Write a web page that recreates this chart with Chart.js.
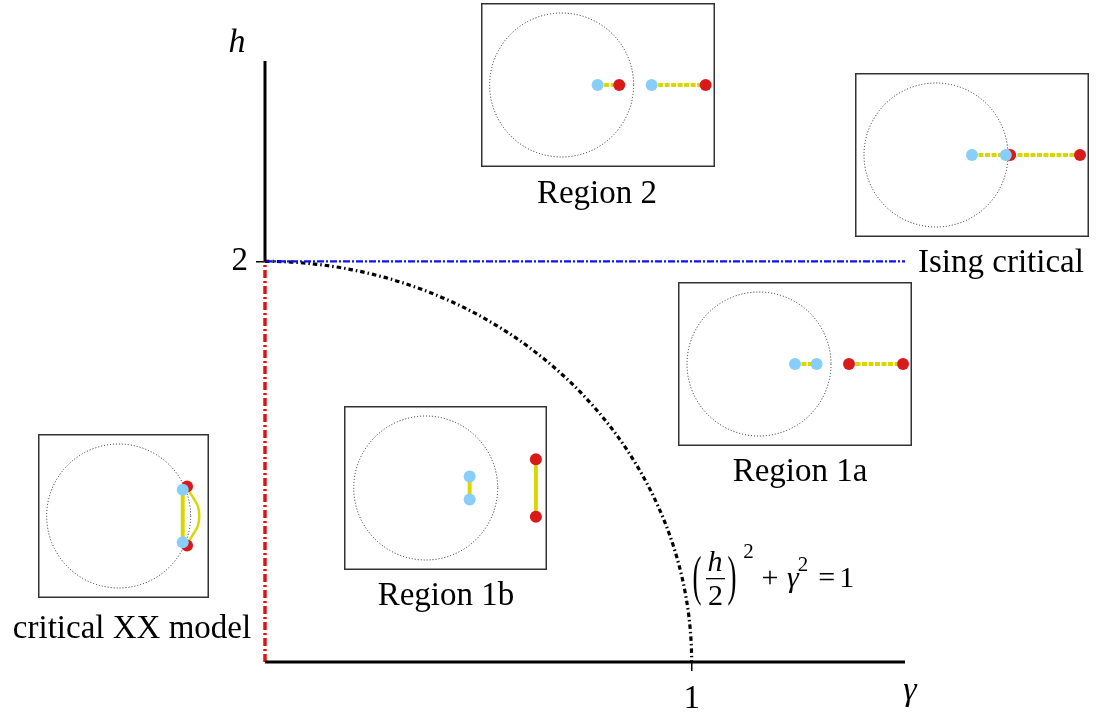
<!DOCTYPE html>
<html>
<head>
<meta charset="utf-8">
<script src="https://cdn.jsdelivr.net/npm/chart.js@4/dist/chart.umd.min.js"></script>
<style>
  html, body { margin: 0; padding: 0; background: #fff; }
  #stage { position: relative; width: 1099px; height: 715px; overflow: hidden; }
  #stage canvas { position: absolute; }
</style>
</head>
<body>
<div id="stage"><canvas id="phase" width="1099" height="715" style="left:0;top:0"></canvas></div>
<script>
const SERIF = '"Liberation Serif", "DejaVu Serif", serif';

// ---- Phase diagram in the (γ, h) plane ----
const gammaRange = [0, 1.5];
const hRange = [0, 3];
const gammaTicks = [1];
const hTicks = [2];

const gammaAxisLine = [[0, 0], [1.5, 0]];
const hAxisLine = [[0, 2], [0, 3]];
const xxCriticalLine = [[0, 0], [0, 2]];        // γ = 0, h < 2
const isingCriticalLine = [[0, 2], [1.5, 2]];   // h = 2
const boundaryIntercepts = [1, 2];              // (h/2)^2 + γ^2 = 1 : γ-intercept, h-intercept

// ---- Zeros in the complex plane, [Re, Im], for each inset ----
const region2Blue = [[0.5, 0], [1.25, 0]];
const region2Red = [[0.8, 0], [2.0, 0]];
const isingBlue = [[0.5, 0], [0.97, 0]];
const isingRed = [[1.03, 0], [2.0, 0]];
const region1aBlue = [[0.5, 0], [0.8, 0]];
const region1aRed = [[1.25, 0], [2.0, 0]];
const region1bBlue = [[0.61, 0.16], [0.61, -0.16]];
const region1bRed = [[1.53, 0.40], [1.53, -0.40]];
const xxBlue = [[0.89, 0.365], [0.89, -0.365]];
const xxRed = [[0.95, 0.41], [0.95, -0.41]];
const xxRedBend = [1.12, 0];

const BLUE_PT = '#87cefa';
const RED_PT = '#d91a1a';
const YELLOW = '#d8d800';
const PX_PER_UNIT = 72;
const INSET_H = 164;

const insets = [
  { label: 'Region 2', left: 481, top: 3, width: 234, xMin: -1.12,
    blue: region2Blue, red: region2Red,
    links: [[region2Blue[0], region2Red[0]], [region2Blue[1], region2Red[1]]] },
  { label: 'Ising critical', left: 855, top: 73, width: 234, xMin: -1.125,
    blue: isingBlue, red: isingRed,
    links: [[isingBlue[0], isingRed[1]]] },
  { label: 'Region 1a', left: 678, top: 282, width: 234, xMin: -1.125,
    blue: region1aBlue, red: region1aRed,
    links: [[region1aBlue[0], region1aBlue[1]], [region1aRed[0], region1aRed[1]]] },
  { label: 'Region 1b', left: 344, top: 406, width: 203, xMin: -1.135,
    blue: region1bBlue, red: region1bRed,
    links: [[region1bBlue[0], region1bBlue[1]], [region1bRed[0], region1bRed[1]]] },
  { label: 'critical XX model', left: 38, top: 434, width: 171, xMin: -1.12,
    blue: xxBlue, red: xxRed,
    links: [[xxBlue[0], xxBlue[1]], [xxRed[0], xxRedBend, xxRed[1]]] }
];

const toXY = p => ({ x: p[0], y: p[1] });

// unit circle and frame for each inset
const insetDecor = {
  id: 'insetDecor',
  beforeDatasetsDraw(chart) {
    const { ctx, scales: { x, y } } = chart;
    const cx = x.getPixelForValue(0), cy = y.getPixelForValue(0);
    const r = x.getPixelForValue(1) - cx;
    ctx.save();
    ctx.strokeStyle = '#222';
    ctx.lineWidth = 1;
    ctx.setLineDash([1, 2]);
    ctx.beginPath();
    ctx.arc(cx, cy, r, 0, Math.PI * 2);
    ctx.stroke();
    ctx.restore();
  },
  afterDraw(chart) {
    const { ctx, width, height } = chart;
    ctx.save();
    ctx.strokeStyle = '#333';
    ctx.lineWidth = 1.5;
    ctx.strokeRect(0.75, 0.75, width - 1.5, height - 1.5);
    ctx.restore();
  }
};

function buildInset(cfg) {
  const c = document.createElement('canvas');
  c.width = cfg.width;
  c.height = INSET_H;
  c.style.left = cfg.left + 'px';
  c.style.top = cfg.top + 'px';
  document.getElementById('stage').appendChild(c);
  const datasets = cfg.links.map(l => ({
    data: l.map(toXY), showLine: true, borderColor: YELLOW,
    borderWidth: l.length > 2 ? 2.5 : 4, pointRadius: 0, tension: l.length > 2 ? 0.5 : 0,
    borderDash: l.length > 2 || l[0][1] !== 0 ? [] : [5, 1.5],
    order: 3, clip: false
  }));
  datasets.push({ data: cfg.red.map(toXY), pointRadius: 6, pointBackgroundColor: RED_PT,
    pointBorderWidth: 0, order: 2, clip: false });
  datasets.push({ data: cfg.blue.map(toXY), pointRadius: 6, pointBackgroundColor: BLUE_PT,
    pointBorderWidth: 0, order: 1, clip: false });
  const half = INSET_H / 2 / PX_PER_UNIT;
  new Chart(c, {
    type: 'scatter',
    data: { datasets },
    options: {
      responsive: false, animation: false, events: [],
      layout: { padding: 0, autoPadding: false },
      scales: {
        x: { type: 'linear', display: false, min: cfg.xMin, max: cfg.xMin + cfg.width / PX_PER_UNIT },
        y: { type: 'linear', display: false, min: -half, max: half }
      },
      plugins: { legend: { display: false }, tooltip: { enabled: false } }
    },
    plugins: [insetDecor]
  });
}

// text placement for inset captions
const captionPos = {
  'Region 2': [597, 203, 'center'],
  'Ising critical': [918, 272, 'left'],
  'Region 1a': [800, 481, 'center'],
  'Region 1b': [446, 605, 'center'],
  'critical XX model': [132, 638, 'center']
};

const phaseDecor = {
  id: 'phaseDecor',
  beforeDatasetsDraw(chart) {
    // elliptic boundary (h/2)^2 + γ^2 = 1
    const { ctx, scales: { x, y } } = chart;
    const cx = x.getPixelForValue(0), cy = y.getPixelForValue(0);
    const rx = x.getPixelForValue(boundaryIntercepts[0]) - cx;
    const ry = cy - y.getPixelForValue(boundaryIntercepts[1]);
    ctx.save();
    ctx.strokeStyle = '#000';
    ctx.lineWidth = 3.2;
    ctx.setLineDash([4.5, 3, 1.5, 3]);
    ctx.beginPath();
    ctx.ellipse(cx, cy, rx, ry, 0, -Math.PI / 2, 0);
    ctx.stroke();
    ctx.restore();
  },
  afterDraw(chart) {
    const { ctx } = chart;
    ctx.save();
    ctx.fillStyle = '#000';
    ctx.textBaseline = 'alphabetic';

    ctx.font = `33px ${SERIF}`;
    insets.forEach(ins => {
      const [px, py, align] = captionPos[ins.label];
      ctx.textAlign = align;
      ctx.fillText(ins.label, px, py);
    });

    ctx.textAlign = 'center';
    ctx.font = `italic 34px ${SERIF}`;
    ctx.fillText('h', 237, 52);
    ctx.fillText('γ', 910, 700);

    // equation of the boundary
    const paren = (ch, px) => {
      ctx.save();
      ctx.translate(px, 580);
      ctx.scale(0.9, 1.8);
      ctx.font = `30px ${SERIF}`;
      ctx.fillText(ch, 0, 7.6);
      ctx.restore();
    };
    paren('(', 697);
    paren(')', 732);
    ctx.font = `italic 30px ${SERIF}`;
    ctx.fillText('h', 715, 571);
    ctx.fillRect(706, 578, 19, 1.3);
    ctx.font = `30px ${SERIF}`;
    ctx.fillText('2', 715.5, 605);
    ctx.font = `21px ${SERIF}`;
    ctx.fillText('2', 748.5, 558);
    ctx.font = `30px ${SERIF}`;
    ctx.fillText('+', 770, 587);
    ctx.font = `italic 30px ${SERIF}`;
    ctx.fillText('γ', 793, 587);
    ctx.font = `21px ${SERIF}`;
    ctx.fillText('2', 803, 571);
    ctx.font = `30px ${SERIF}`;
    ctx.fillText('=', 826.7, 587);
    ctx.fillText('1', 846.7, 587);
    ctx.restore();
  }
};

const lineDs = (pts, color, width, dash) => ({
  data: pts.map(toXY), showLine: true, borderColor: color, borderWidth: width,
  borderDash: dash, pointRadius: 0, clip: false, borderCapStyle: 'butt'
});

const tickGrid = { display: true, drawOnChartArea: false, drawTicks: true, tickLength: 9, color: '#000', lineWidth: 1.5 };

new Chart(document.getElementById('phase'), {
  type: 'scatter',
  data: {
    datasets: [
      lineDs(gammaAxisLine, '#000', 3, []),
      lineDs(hAxisLine, '#000', 3, []),
      lineDs(isingCriticalLine, '#1010f5', 2.2, [7, 2, 2, 2]),
      lineDs(xxCriticalLine, '#e01414', 3.5, [8, 3, 2, 3])
    ]
  },
  options: {
    responsive: false, animation: false, events: [],
    layout: { padding: { left: 205, right: 194, top: 61, bottom: 3 }, autoPadding: false },
    scales: {
      x: {
        type: 'linear', min: gammaRange[0], max: gammaRange[1],
        afterFit: s => { s.height = 50; },
        afterBuildTicks: s => { s.ticks = gammaTicks.map(v => ({ value: v })); },
        ticks: { color: '#000', font: { family: SERIF, size: 33 }, padding: 9, maxRotation: 0, autoSkip: false,
                 callback: v => String(v) },
        grid: tickGrid, border: { display: false }
      },
      y: {
        type: 'linear', min: hRange[0], max: hRange[1],
        afterFit: s => { s.width = 60; },
        afterBuildTicks: s => { s.ticks = hTicks.map(v => ({ value: v })); },
        ticks: { color: '#000', font: { family: SERIF, size: 33 }, padding: 8, autoSkip: false,
                 callback: v => String(v) },
        grid: tickGrid, border: { display: false }
      }
    },
    plugins: { legend: { display: false }, tooltip: { enabled: false } }
  },
  plugins: [phaseDecor]
});

insets.forEach(buildInset);
</script>
</body>
</html>
